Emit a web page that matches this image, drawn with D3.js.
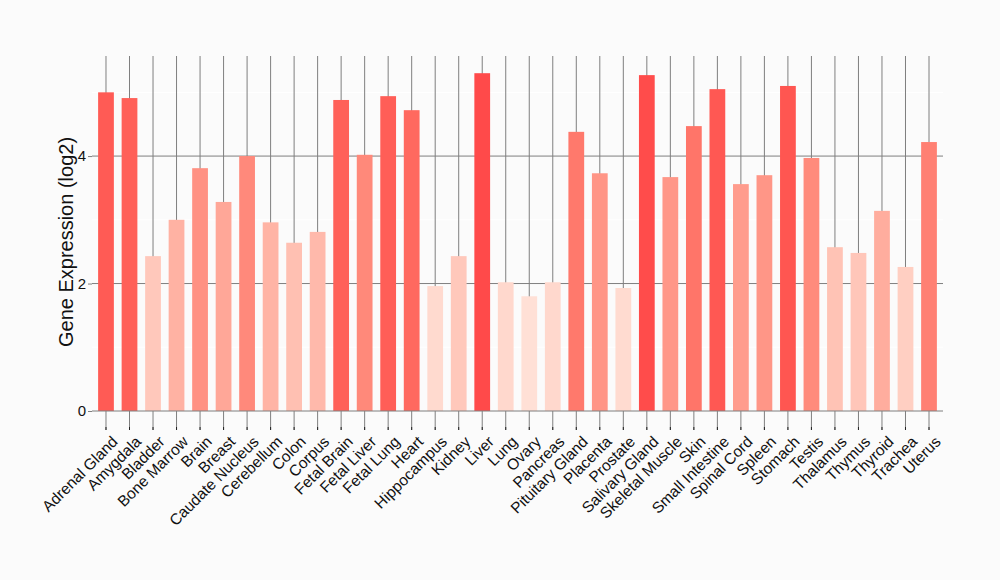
<!DOCTYPE html>
<html>
<head>
<meta charset="utf-8">
<script src="https://cdn.jsdelivr.net/npm/d3@7"></script>
<style>
  html, body { margin: 0; padding: 0; background: #fbfbfb; }
  text { font-family: "Liberation Sans", Arial, sans-serif; }
</style>
</head>
<body>
<div id="chart"></div>
<script>
const tissues = ["Adrenal Gland", "Amygdala", "Bladder", "Bone Marrow", "Brain", "Breast",
  "Caudate Nucleus", "Cerebellum", "Colon", "Corpus", "Fetal Brain", "Fetal Liver",
  "Fetal Lung", "Heart", "Hippocampus", "Kidney", "Liver", "Lung", "Ovary", "Pancreas",
  "Pituitary Gland", "Placenta", "Prostate", "Salivary Gland", "Skeletal Muscle", "Skin",
  "Small Intestine", "Spinal Cord", "Spleen", "Stomach", "Testis", "Thalamus", "Thymus",
  "Thyroid", "Trachea", "Uterus"];
const expression = [5.00, 4.91, 2.43, 3.00, 3.81, 3.28,
  4.00, 2.96, 2.64, 2.81, 4.88, 4.02,
  4.94, 4.72, 1.96, 2.43, 5.30, 2.02, 1.80, 2.02,
  4.38, 3.73, 1.93, 5.27, 3.67, 4.47,
  5.05, 3.56, 3.70, 5.10, 3.97, 2.57, 2.48,
  3.14, 2.26, 4.22];
const majorTicks = [0, 2, 4];
const minorTicks = [1, 3, 5];

const width = 1000, height = 580;
const mLeft = 92, mRight = 943, mTop = 56, mBottom = 411;

const data = tissues.map((t, i) => ({ tissue: t, value: expression[i] }));

const svg = d3.select("#chart").append("svg").attr("width", width).attr("height", height);
svg.append("rect").attr("width", width).attr("height", height).attr("fill", "#fbfbfb");

const x = d3.scaleBand().domain(tissues).range([mLeft, mRight]).paddingOuter(0.26).paddingInner(0.33).align(0.5);
const y = d3.scaleLinear().domain([0, 5.57]).range([mBottom, mTop]);
const color = d3.scaleLinear().domain([d3.min(expression), d3.max(expression)])
  .range(["#ffe0d6", "#ff4a4a"]).interpolate(d3.interpolateLab);

const cx = d => x(d) + x.bandwidth() / 2;

// minor horizontal grid
svg.append("g").selectAll("line").data(minorTicks).enter().append("line")
  .attr("x1", mLeft).attr("x2", mRight)
  .attr("y1", d => y(d)).attr("y2", d => y(d))
  .attr("stroke", "#ffffff").attr("stroke-width", 1);

// major horizontal grid
svg.append("g").selectAll("line").data(majorTicks.filter(d => d > 0)).enter().append("line")
  .attr("x1", mLeft).attr("x2", mRight)
  .attr("y1", d => y(d)).attr("y2", d => y(d))
  .attr("stroke", "#7f7f7f").attr("stroke-width", 1);

// vertical grid lines running through the tick area
svg.append("g").selectAll("line").data(tissues).enter().append("line")
  .attr("x1", cx).attr("x2", cx)
  .attr("y1", mTop).attr("y2", 430)
  .attr("stroke", "#7f7f7f").attr("stroke-width", 1);
svg.append("g").selectAll("line").data(tissues).enter().append("line")
  .attr("x1", cx).attr("x2", cx)
  .attr("y1", 427).attr("y2", 430)
  .attr("stroke", "#222").attr("stroke-width", 1);

// bars
svg.append("g").selectAll("rect").data(data).enter().append("rect")
  .attr("x", d => x(d.tissue))
  .attr("width", x.bandwidth())
  .attr("y", d => y(d.value))
  .attr("height", d => y(0) - y(d.value))
  .attr("fill", d => color(d.value));

// x axis line
svg.append("line").attr("x1", mLeft).attr("x2", mRight)
  .attr("y1", mBottom).attr("y2", mBottom)
  .attr("stroke", "#7f7f7f").attr("stroke-width", 1);

// y axis
const yAxis = svg.append("g").attr("transform", `translate(${mLeft},0)`)
  .call(d3.axisLeft(y).tickValues(majorTicks).tickFormat(d3.format("d")).tickSize(4).tickPadding(2));
yAxis.select(".domain").remove();
yAxis.selectAll(".tick line").attr("stroke", "#7f7f7f");
yAxis.selectAll(".tick text").attr("fill", "#111").style("font-size", "15px")
  .style("font-family", "'Liberation Sans', Arial, sans-serif");

// x labels
svg.append("g").selectAll("text").data(tissues).enter().append("text")
  .attr("transform", d => `translate(${cx(d) + 5},${435}) rotate(-45)`)
  .attr("text-anchor", "end")
  .attr("dy", "0.7em")
  .style("font-size", "15.5px")
  .attr("fill", "#111")
  .text(d => d);

// y title
svg.append("text")
  .attr("transform", `translate(73,242) rotate(-90)`)
  .attr("text-anchor", "middle")
  .style("font-size", "20px")
  .attr("fill", "#111")
  .text("Gene Expression (log2)");
</script>
</body>
</html>
